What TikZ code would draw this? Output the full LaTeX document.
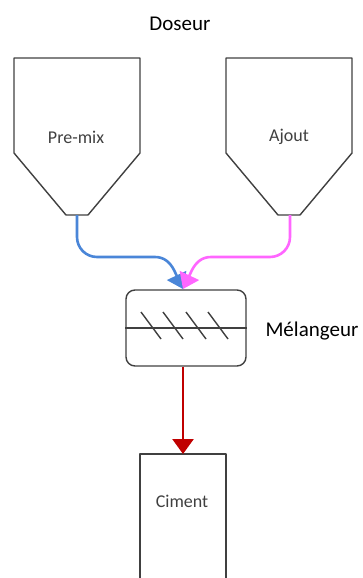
\documentclass[tikz,border=0pt]{standalone}
\usepackage{fontspec}
\setmainfont{Carlito}
\usetikzlibrary{arrows.meta}
\definecolor{outl}{HTML}{404040}
\definecolor{bluef}{HTML}{4A86D8}
\definecolor{pinkf}{HTML}{FF66FF}
\definecolor{redf}{HTML}{C00000}
\tikzset{
  outline/.style={draw=outl, line width=1.4pt, line join=round},
  biglabel/.style={font=\fontsize{21}{25}\selectfont, text=black},
  boxlabel/.style={font=\fontsize{18}{22}\selectfont, text=outl},
  flow/.style={line width=2.6pt, -{Triangle[width=21pt,length=15pt]}},
}
\begin{document}
\begin{tikzpicture}[x=1pt,y=-1pt]
\useasboundingbox (0,0) rectangle (363,578);
% title
\node[biglabel] (doseur) at (180,24) {Doseur};
% hoppers
\draw[outline] (14,58) -- (140,58) -- (140,153) -- (88,215) -- (66,215) -- (14,153) -- cycle;
\node[boxlabel] (premix) at (76,137) {Pre-mix};
\coordinate (outA) at (77,215);
\draw[outline] (226,58) -- (352,58) -- (352,153) -- (300,215) -- (278,215) -- (226,153) -- cycle;
\node[boxlabel] (ajout) at (289,137) {Ajout};
\coordinate (outB) at (290,215);
% mixer
\node[outline, rounded corners=9pt, minimum width=120pt, minimum height=76pt, inner sep=0pt] (mix) at (186,328) {};
\draw[outline] (mix.west) -- (mix.east);
\foreach \x in {141,163,186,208}{
  \draw[outline] (\x,312) -- (\x+20,339);
}
\node[biglabel, anchor=west] (melang) at (262,331) {Mélangeur};
\coordinate (inM) at (183,289);
% flows
\draw[flow, bluef] (outA) -- (77,237) to[out=-90,in=180] (97,257) -- (155,257) to[out=0,in=118] (174,270) -- (inM);
\draw[flow, pinkf] (outB) -- (290,237) to[out=-90,in=0] (270,257) -- (211,257) to[out=180,in=62] (192,270) -- (inM);
% ciment
\draw[outline] (140,590) -- (140,454) -- (226,454) -- (226,590);
\coordinate (cimTop) at (183,454);
\node[boxlabel] (ciment) at (182,501) {Ciment};
\draw[flow, redf] (mix.south -| cimTop) -- (cimTop);
\end{tikzpicture}
\end{document}
